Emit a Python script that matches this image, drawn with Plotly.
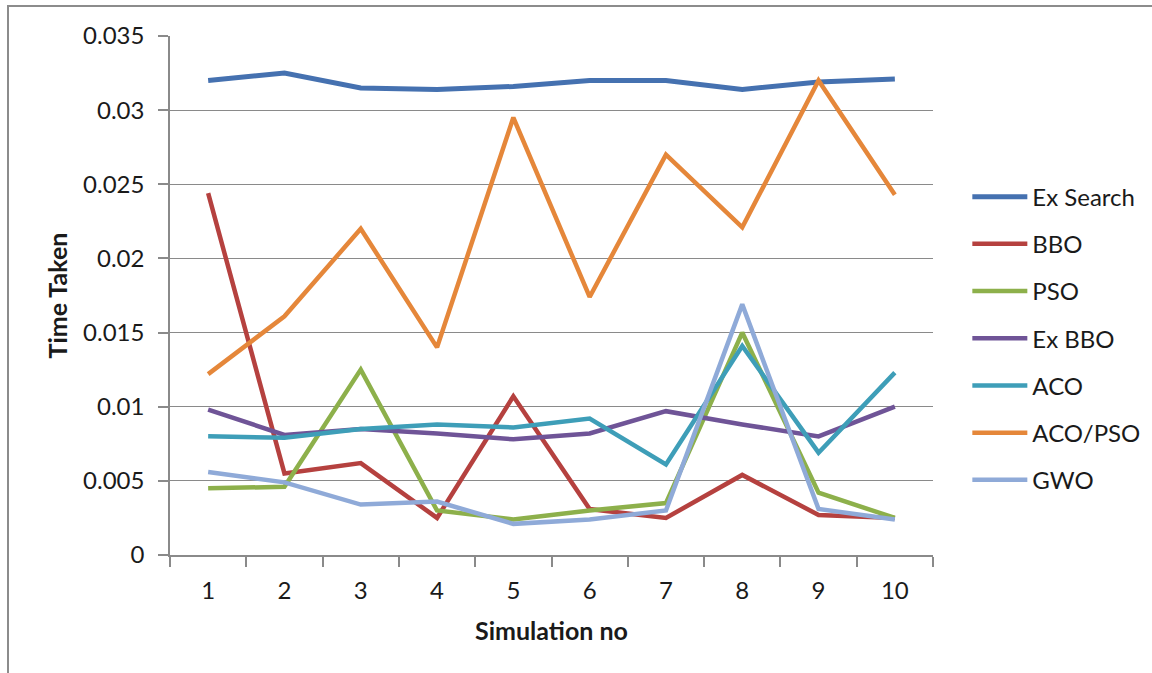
import plotly.graph_objects as go

simulations = ["1", "2", "3", "4", "5", "6", "7", "8", "9", "10"]

ex_search = [0.0320, 0.0325, 0.0315, 0.0314, 0.0316, 0.0320, 0.0320, 0.0314, 0.0319, 0.0321]
bbo = [0.0244, 0.0055, 0.0062, 0.0025, 0.0107, 0.0031, 0.0025, 0.0054, 0.0027, 0.0025]
pso = [0.0045, 0.0046, 0.0125, 0.0030, 0.0024, 0.0030, 0.0035, 0.0150, 0.0042, 0.0025]
ex_bbo = [0.0098, 0.0081, 0.0085, 0.0082, 0.0078, 0.0082, 0.0097, 0.0088, 0.0080, 0.0100]
aco = [0.0080, 0.0079, 0.0085, 0.0088, 0.0086, 0.0092, 0.0061, 0.0141, 0.0069, 0.0123]
aco_pso = [0.0122, 0.0161, 0.0220, 0.0140, 0.0295, 0.0174, 0.0270, 0.0221, 0.0320, 0.0243]
gwo = [0.0056, 0.0049, 0.0034, 0.0036, 0.0021, 0.0024, 0.0030, 0.0169, 0.0031, 0.0024]

y_tick_values = [0, 0.005, 0.01, 0.015, 0.02, 0.025, 0.03, 0.035]
y_tick_labels = ["0", "0.005", "0.01", "0.015", "0.02", "0.025", "0.03", "0.035"]

series = [
    ("Ex Search", ex_search, "#4571B0", 5),
    ("BBO", bbo, "#B5413F", 4.5),
    ("PSO", pso, "#8DB04B", 4.5),
    ("Ex BBO", ex_bbo, "#6F5497", 4.5),
    ("ACO", aco, "#3E9EB8", 4.5),
    ("ACO/PSO", aco_pso, "#E5873A", 4.5),
    ("GWO", gwo, "#8FAAD8", 4.5),
]

FONT = "Lato"
GRID = "#8A8A8A"

fig = go.Figure()
for name, values, color, width in series:
    fig.add_trace(go.Scatter(
        x=simulations, y=values, name=name, mode="lines",
        line=dict(color=color, width=width),
        legendgroup=name,
    ))

fig.update_layout(
    width=1152, height=673,
    margin=dict(l=170, r=219, t=36, b=118, autoexpand=False),
    paper_bgcolor="white", plot_bgcolor="white",
    font=dict(family=FONT, size=24, color="#1A1A1A"),
    showlegend=True,
    legend=dict(
        x=1.045, y=0.733, xanchor="left", yanchor="top",
        font=dict(family=FONT, size=24, color="#1A1A1A"),
        tracegroupgap=13, itemwidth=55,
        bgcolor="rgba(0,0,0,0)",
    ),
    xaxis=dict(
        type="category", range=[-0.5, 9.5],
        showline=True, linecolor=GRID, linewidth=1.5,
        ticks="outside", ticklen=10, tickcolor=GRID, tickwidth=1.5,
        tickson="boundaries", showgrid=False,
        tickfont=dict(family=FONT, size=24),
        ticklabelstandoff=13,
        title=dict(text="<b>Simulation no</b>", font=dict(family=FONT, size=25), standoff=20),
    ),
    yaxis=dict(
        range=[0, 0.035], tickvals=y_tick_values, ticktext=y_tick_labels,
        showline=True, linecolor=GRID, linewidth=1.5,
        ticks="outside", ticklen=10, tickcolor=GRID, tickwidth=1.5,
        showgrid=True, gridcolor=GRID, gridwidth=1.2, zeroline=False,
        tickfont=dict(family=FONT, size=24),
        ticklabelstandoff=9,
        title=dict(text="<b>Time Taken</b>", font=dict(family=FONT, size=25), standoff=8),
    ),
    shapes=[dict(
        type="rect", xref="paper", yref="paper",
        x0=(8 - 170) / 763, x1=1.5, y0=-0.6, y1=(555 - 6) / 519,
        line=dict(color="#8C8C8C", width=2), layer="below",
    )],
)

fig.write_html("out.html")
